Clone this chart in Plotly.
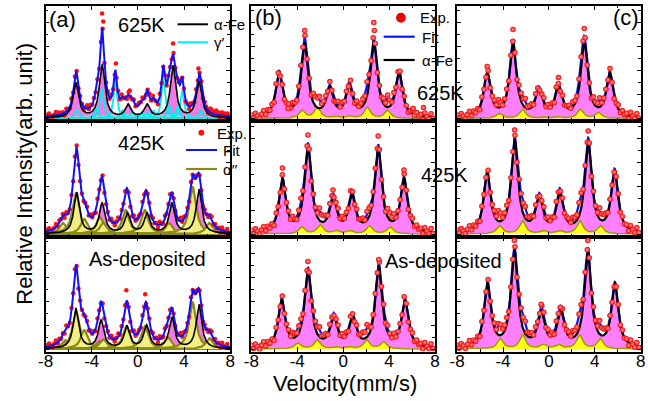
import numpy as np
import plotly.graph_objects as go

FONT = "Liberation Sans, Arial, sans-serif"

# ---------------- data ----------------
TICK_VALS = [-8, -4, 0, 4, 8]
TICK_TEXT = ["-8", "-4", "0", "4", "8"]
MINOR_X = [-6, -2, 2, 6]
Y_TICKS = [0, 24, 48, 72, 96]
Y_MINOR = [12, 36, 60, 84, 108]

PANEL_LABELS = ["(a)", "(b)", "(c)"]
ROW_LABELS = ["625K", "425K", "As-deposited"]

# --- column (a) ---
A625_FE_POS = [-5.37, -3.10, -0.85, 0.80, 3.05, 5.30]
A625_FE_H = [35, 53, 13, 13, 52, 36]
A625_FE_W = 0.58
A625_G_POS = [-5.30, -3.60, -3.10, -1.95, -1.35, -0.50, 0.30, 0.80, 1.35, 2.20, 2.70, 3.45, 3.85, 5.45]
A625_G_H = [9, 10, 31, 38, 8, 7, 6, 6, 8, 40, 13, 12, 28, 8]
A625_G_W = 0.36
A625_BG = [0.0, 5.0, 9.0]          # centre, height, width of broad grey part
A625_EXTRA_V = [-3.10, -3.00, 3.05, 5.25, -1.90, -0.70, 5.90, 6.10, 6.30, 6.60, 6.80, 7.00, 7.30, 7.50, 7.80]
A625_EXTRA_Y = [105, 97, 75, 50, 55, 28, 12, 9, 10, 7, 8, 6, 6, 5, 4]

A425_FE_POS = [-5.30, -3.10, -0.90, 0.80, 2.95, 5.30]
A425_FE_H = [41, 30, 20, 20, 30, 44]
A425_FE_W = 0.58
A425_O_POS = [-6.50, -5.37, -4.65, -3.30, -3.00, -1.05, 0.60, 2.70, 4.75, 6.20]
A425_O_H = [11, 41, 15, 17, 11, 24, 24, 11, 47, 11]
A425_O_W = 0.72
A425_EXTRA_V = []
A425_EXTRA_Y = []

AAD_FE_POS = [-5.37, -3.18, -0.95, 0.75, 2.95, 5.30]
AAD_FE_H = [40, 28, 22, 23, 31, 44]
AAD_FE_W = 0.58
AAD_O_POS = [-6.30, -5.37, -4.65, -3.30, -3.00, -1.00, 0.60, 2.60, 4.75, 6.20]
AAD_O_H = [9, 38, 19, 8, 10, 23, 23, 12, 47, 11]
AAD_O_W = 0.72
AAD_EXTRA_V = [-1.00, 0.64]
AAD_EXTRA_Y = [59, 55]

# --- column (b) ---
B625_FE_POS = [-5.58, -3.35, -1.17, 0.54, 2.67, 4.87]
B625_FE_H = [45, 73, 28, 30, 75, 45]
B625_Y_POS = [-3.58, -2.25, -0.66, 0.54, 2.11, 3.87]
B625_Y_H = [8, 11, 2, 2, 11, 8]
B625_EXTRA_V = [2.67, 2.72, -3.35, 6.10, 7.00, -4.80]
B625_EXTRA_Y = [96, 88, 88, 10, 11, 10]

B425_FE_POS = [-5.29, -3.07, -0.88, 0.77, 3.05, 5.30]
B425_FE_H = [53, 86, 33, 36, 85, 54]
B425_Y_POS = [-3.60, -2.00, -0.60, 0.55, 2.30, 4.10]
B425_Y_H = [7, 9, 3, 3, 8, 7]
B425_EXTRA_V = [-3.07, 3.05, 5.30, -0.88, -5.29]
B425_EXTRA_Y = [99, 98, 64, 44, 66]

BAD_FE_POS = [-5.35, -3.07, -0.83, 0.83, 3.10, 5.38]
BAD_FE_H = [48, 78, 30, 29, 81, 48]
BAD_Y_POS = [-3.95, -2.25, -0.66, 0.54, 2.05, 3.53]
BAD_Y_H = [6, 9, 2, 2, 9, 7]
BAD_EXTRA_V = [3.10, -3.07]
BAD_EXTRA_Y = [90, 88]

# --- column (c) ---
C625_FE_POS = [-5.38, -3.13, -0.88, 0.83, 3.08, 5.30]
C625_FE_H = [44, 74, 27, 29, 76, 44]
C625_Y_POS = [-4.35, -2.30, -0.50, 0.80, 2.74, 4.33]
C625_Y_H = [5, 9, 1.5, 1.5, 9, 6]
C625_EXTRA_V = [-3.13, 3.08, -5.38, 0.83]
C625_EXTRA_Y = [89, 90, 52, 41]

C425_FE_POS = [-5.38, -2.99, -0.85, 0.94, 3.42, 5.72]
C425_FE_H = [60, 92, 34, 38, 91, 62]
C425_Y_POS = [-4.30, -2.30, -0.50, 0.90, 2.70, 4.50]
C425_Y_H = [8, 13, 3, 3, 13, 8]
C425_EXTRA_V = [-2.99, 3.42]
C425_EXTRA_Y = [104, 103]

CAD_FE_POS = [-5.35, -3.01, -0.68, 1.03, 3.39, 5.75]
CAD_FE_H = [64, 97, 34, 35, 96, 64]
CAD_Y_POS = [-4.24, -2.30, -0.50, 0.83, 2.67, 4.47]
CAD_Y_H = [10, 14, 4, 4, 14, 10]
CAD_EXTRA_V = [-3.01, 3.39, -0.68, 1.00]
CAD_EXTRA_Y = [109, 109, 45, 42]

BC_FE_W = 0.70
BC_Y_W = 0.62

# measured scatter of the experimental points around the fit (cycled)
JITTER = [1.8, -1.2, 2.6, 0.4, -2.2, 1.0, 3.4, -0.8, 2.2, -0.4, 1.4, -2.6, 3.0, 0.2, -1.6, 2.8, -1.0, 0.8]

# ---------------- layout geometry ----------------
W, H = 648, 401
XPX = [(38.3, 226.7), (248.3, 435.7), (458.3, 645.7)]
YPX = [(5.5, 121.0), (121.0, 236.5), (236.5, 351.5)]


def px(x):
    return x / W


def py(y):
    return 1 - y / H


def lor(v, pos, h, w):
    v = np.asarray(v, dtype=float)[:, None]
    p = np.asarray(pos, dtype=float)[None, :]
    hh = np.asarray(h, dtype=float)[None, :]
    if p.size == 0:
        return np.zeros(v.shape[0])
    return (hh / (1 + ((v - p) / (w / 2)) ** 2)).sum(axis=1)


V = np.linspace(-8, 8, 1201)

MAG_A = "#F27AE8"
MAG_BC = "#FF80FF"
YEL_A = "#F3EE84"
OLIVE_A = "#8A8A10"
YEL_BC = "#FFFF1A"
OLIVE_BC = "#9C9C00"
BLUE = "#1010FF"
CYAN = "#00F0F0"
GREY = "#C4C4C4"

fig = go.Figure()

panels = [
    dict(kind="a625", fe=(A625_FE_POS, A625_FE_H, A625_FE_W), sub=(A625_G_POS, A625_G_H, A625_G_W),
         extra=(A625_EXTRA_V, A625_EXTRA_Y)),
    dict(kind="bc", fe=(B625_FE_POS, B625_FE_H, BC_FE_W), sub=(B625_Y_POS, B625_Y_H, BC_Y_W),
         extra=(B625_EXTRA_V, B625_EXTRA_Y)),
    dict(kind="bc", fe=(C625_FE_POS, C625_FE_H, BC_FE_W), sub=(C625_Y_POS, C625_Y_H, BC_Y_W),
         extra=(C625_EXTRA_V, C625_EXTRA_Y)),
    dict(kind="aol", fe=(A425_FE_POS, A425_FE_H, A425_FE_W), sub=(A425_O_POS, A425_O_H, A425_O_W),
         extra=(A425_EXTRA_V, A425_EXTRA_Y)),
    dict(kind="bc", fe=(B425_FE_POS, B425_FE_H, BC_FE_W), sub=(B425_Y_POS, B425_Y_H, BC_Y_W),
         extra=(B425_EXTRA_V, B425_EXTRA_Y)),
    dict(kind="bc", fe=(C425_FE_POS, C425_FE_H, BC_FE_W), sub=(C425_Y_POS, C425_Y_H, BC_Y_W),
         extra=(C425_EXTRA_V, C425_EXTRA_Y)),
    dict(kind="aol", fe=(AAD_FE_POS, AAD_FE_H, AAD_FE_W), sub=(AAD_O_POS, AAD_O_H, AAD_O_W),
         extra=(AAD_EXTRA_V, AAD_EXTRA_Y)),
    dict(kind="bc", fe=(BAD_FE_POS, BAD_FE_H, BC_FE_W), sub=(BAD_Y_POS, BAD_Y_H, BC_Y_W),
         extra=(BAD_EXTRA_V, BAD_EXTRA_Y)),
    dict(kind="bc", fe=(CAD_FE_POS, CAD_FE_H, BC_FE_W), sub=(CAD_Y_POS, CAD_Y_H, BC_Y_W),
         extra=(CAD_EXTRA_V, CAD_EXTRA_Y)),
]


def model(p, v):
    fe_pos, fe_h, fe_w = p["fe"]
    s_pos, s_h, s_w = p["sub"]
    y = lor(v, fe_pos, fe_h, fe_w) + lor(v, s_pos, s_h, s_w)
    if p["kind"] == "a625":
        y = y + lor(v, [A625_BG[0]], [A625_BG[1]], A625_BG[2])
    return y


for idx, p in enumerate(panels):
    r, c = divmod(idx, 3)
    n = idx + 1
    ax = dict(xaxis="x" if n == 1 else f"x{n}", yaxis="y" if n == 1 else f"y{n}")
    fe_pos, fe_h, fe_w = p["fe"]
    s_pos, s_h, s_w = p["sub"]
    fe_curve = lor(V, fe_pos, fe_h, fe_w)
    fit = model(p, V)

    col_a = p["kind"] != "bc"
    step = 0.15 if col_a else 0.18
    ve = np.arange(-8, 8.0001, step)
    scale = 1.0 if col_a else 1.2
    ye = model(p, ve) + np.array([JITTER[k % len(JITTER)] for k in range(len(ve))]) * scale
    ve = np.concatenate([ve, np.array(p["extra"][0], dtype=float)])
    ye = np.concatenate([ye, np.array(p["extra"][1], dtype=float)])

    fig.add_trace(go.Scatter(x=V, y=fe_curve, mode="lines", line=dict(width=0),
                             fill="tozeroy", fillcolor=MAG_A if col_a else MAG_BC, **ax))
    if p["kind"] == "a625":
        bg = lor(V, [A625_BG[0]], [A625_BG[1]], A625_BG[2])
        fig.add_trace(go.Scatter(x=V, y=bg, mode="lines", line=dict(width=0),
                                 fill="tozeroy", fillcolor=GREY, **ax))
        for pp, hh in zip(s_pos, s_h):
            fig.add_trace(go.Scatter(x=V, y=lor(V, [pp], [hh], s_w), mode="lines",
                                     line=dict(color=CYAN, width=1.8), **ax))
    elif p["kind"] == "aol":
        for pp, hh in zip(s_pos, s_h):
            fig.add_trace(go.Scatter(x=V, y=lor(V, [pp], [hh], s_w), mode="lines",
                                     line=dict(color=OLIVE_A, width=2.2), fill="tozeroy",
                                     fillcolor=YEL_A, **ax))
    else:
        fig.add_trace(go.Scatter(x=V, y=lor(V, s_pos, s_h, s_w), mode="lines",
                                 line=dict(color=OLIVE_BC, width=1.5), fill="tozeroy",
                                 fillcolor=YEL_BC, **ax))

    if col_a:
        fig.add_trace(go.Scatter(x=ve, y=ye, mode="markers",
                                 marker=dict(color="#FF1010", size=4.5, line=dict(width=0)), **ax))
        fig.add_trace(go.Scatter(x=V, y=fit, mode="lines", line=dict(color=BLUE, width=2), **ax))
        fig.add_trace(go.Scatter(x=V, y=fe_curve, mode="lines", line=dict(color="black", width=1.6), **ax))
    else:
        fig.add_trace(go.Scatter(x=V, y=fit, mode="lines", line=dict(color=BLUE, width=2.2), **ax))
        fig.add_trace(go.Scatter(x=V, y=fe_curve, mode="lines", line=dict(color="black", width=2.2), **ax))
        fig.add_trace(go.Scatter(x=ve, y=ye, mode="markers",
                                 marker=dict(color="#F00000", size=5.5, line=dict(width=0),
                                             gradient=dict(type="radial", color="#FFA0A0")), **ax))

layout = dict(width=W, height=H, margin=dict(l=0, r=0, t=0, b=0),
              paper_bgcolor="white", plot_bgcolor="white", showlegend=False,
              font=dict(family=FONT, color="black"))

for idx in range(9):
    r, c = divmod(idx, 3)
    n = idx + 1
    xk = "xaxis" if n == 1 else f"xaxis{n}"
    yk = "yaxis" if n == 1 else f"yaxis{n}"
    layout[xk] = dict(domain=[px(XPX[c][0]), px(XPX[c][1])], anchor="y" if n == 1 else f"y{n}",
                      range=[-8, 8], tickvals=TICK_VALS, ticktext=TICK_TEXT,
                      ticks="inside", ticklen=5, tickwidth=1.2, tickcolor="black",
                      minor=dict(tickvals=MINOR_X, ticks="inside", ticklen=3, tickcolor="black"),
                      showline=True, linewidth=1.5, linecolor="black", mirror="ticks",
                      showgrid=False, zeroline=False, showticklabels=(r == 2),
                      ticklabelstandoff=-7,
                      tickfont=dict(size=17, family=FONT, color="black"))
    layout[yk] = dict(domain=[py(YPX[r][1]), py(YPX[r][0])], anchor="x" if n == 1 else f"x{n}",
                      range=[-2.5, 113], tickvals=Y_TICKS, ticks="inside", ticklen=4, tickwidth=1.2,
                      tickcolor="black",
                      minor=dict(tickvals=Y_MINOR, ticks="inside", ticklen=3, tickcolor="black"),
                      showline=True, linewidth=1.5, linecolor="black", mirror="ticks",
                      showgrid=False, zeroline=False, showticklabels=False)

ann = []


def text(x, y, s, size, anchor="center"):
    ann.append(dict(x=px(x), y=py(y), xref="paper", yref="paper", text=s, showarrow=False,
                    xanchor=anchor, yanchor="middle", font=dict(size=size, family=FONT, color="black")))


text(56, 19, PANEL_LABELS[0], 22)
text(266, 18, PANEL_LABELS[1], 22)
text(631, 18, PANEL_LABELS[2], 22)
text(136.5, 25.5, ROW_LABELS[0], 20)
text(136.5, 143, ROW_LABELS[1], 20)
text(142, 258.5, ROW_LABELS[2], 20)
text(441, 92.5, ROW_LABELS[0], 20)
text(445, 175, ROW_LABELS[1], 20)
text(444.5, 261, ROW_LABELS[2], 20)

text(208, 24.3, "α-Fe", 15, "left")
text(208, 42.3, "γ′", 15, "left")
text(211, 133, "Exp.", 15, "left")
text(217, 150, "Fit", 15, "left")
text(217, 169, "α′′", 15, "left")
text(418, 18, "Exp.", 15, "left")
text(420, 37, "Fit", 15, "left")
text(420, 60, "α-Fe", 15, "left")

ann.append(dict(x=px(16), y=py(174), xref="paper", yref="paper", text="Relative Intensity(arb. unit)",
                showarrow=False, textangle=-90, xanchor="center", yanchor="middle",
                font=dict(size=22, family=FONT, color="black")))
text(344, 383, "Velocity(mm/s)", 22)

layout["annotations"] = ann


def hline(x0, x1, y, color, w):
    return dict(type="line", xref="paper", yref="paper", x0=px(x0), x1=px(x1), y0=py(y), y1=py(y),
                line=dict(color=color, width=w))


def dot(x, y, rad, color):
    return dict(type="circle", xref="paper", yref="paper", x0=px(x - rad), x1=px(x + rad),
                y0=py(y + rad), y1=py(y - rad), fillcolor=color, line=dict(width=0))


layout["shapes"] = [
    hline(173, 204, 24.3, "black", 2),
    hline(173, 204, 42.3, CYAN, 2),
    dot(197.3, 132.7, 3, "#FF1010"),
    hline(181.7, 213.3, 150, BLUE, 2),
    hline(181.7, 213.3, 169, OLIVE_A, 2.2),
    dot(401, 17.7, 5, "#F00000"),
    hline(383.3, 415, 36.7, BLUE, 2.2),
    hline(383.3, 415, 60, "black", 2.2),
]

fig.update_layout(**layout)
fig.write_html("out.html")
